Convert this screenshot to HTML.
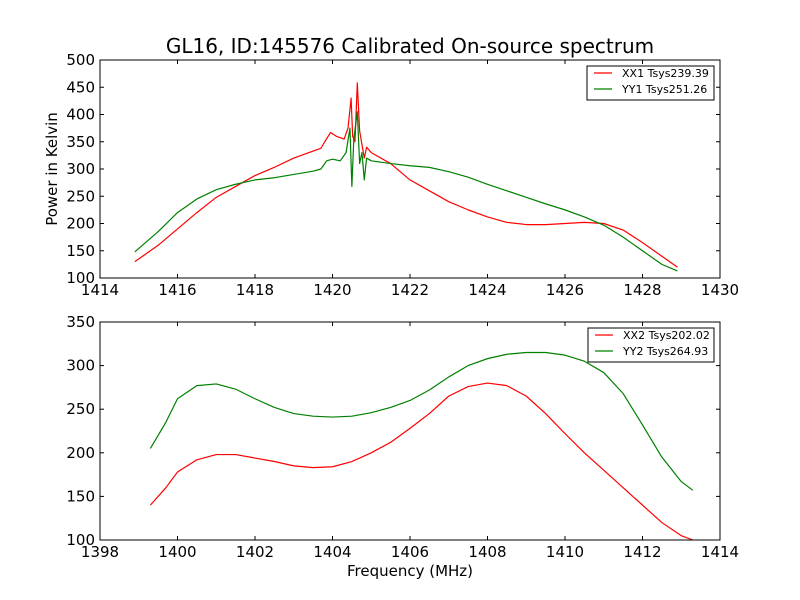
<!DOCTYPE html>
<html><head><meta charset="utf-8"><style>
body{margin:0;background:#fff}
svg{display:block;font-family:"DejaVu Sans","Liberation Sans",sans-serif}
</style></head><body>
<svg id="c" width="800" height="600"></svg>
<script>
const f1=[1414.9,1415.5,1416,1416.5,1417,1417.5,1418,1418.5,1419,1419.5,1419.7,1419.8,1419.95,1420.1,1420.3,1420.4,1420.48,1420.52,1420.58,1420.64,1420.7,1420.76,1420.82,1420.88,1421,1421.5,1422,1422.5,1423,1423.5,1424,1424.5,1425,1425.5,1426,1426.5,1427,1427.5,1428,1428.5,1428.9];
const xx1=[130,160,190,220,248,268,288,303,320,333,338,350,367,360,355,375,430,360,350,458,370,345,320,340,330,310,280,260,240,225,212,202,198,198,200,202,200,188,165,140,120];
const g1=[1414.9,1415.5,1416,1416.5,1417,1417.5,1418,1418.5,1419,1419.5,1419.7,1419.85,1420,1420.2,1420.35,1420.45,1420.5,1420.55,1420.64,1420.7,1420.76,1420.82,1420.88,1421,1421.5,1422,1422.5,1423,1423.5,1424,1424.5,1425,1425.5,1426,1426.5,1427,1427.5,1428,1428.5,1428.9];
const yy1=[148,185,220,245,262,272,280,284,290,296,300,315,318,315,330,375,268,355,405,310,330,280,320,315,310,306,303,295,285,272,260,248,236,225,212,197,175,150,125,113];
const f2=[1399.3,1399.7,1400,1400.5,1401,1401.5,1402,1402.5,1403,1403.5,1404,1404.5,1405,1405.5,1406,1406.5,1407,1407.5,1408,1408.5,1409,1409.5,1410,1410.5,1411,1411.5,1412,1412.5,1413,1413.3];
const xx2=[140,160,178,192,198,198,194,190,185,183,184,190,200,212,228,245,265,276,280,277,265,245,222,200,180,160,140,120,105,100];
const yy2=[205,235,262,277,279,273,262,252,245,242,241,242,246,252,260,272,287,300,308,313,315,315,312,305,292,268,232,195,167,157];
const xt1=[1414,1416,1418,1420,1422,1424,1426,1428,1430];
const yt1=[100,150,200,250,300,350,400,450,500];
const xt2=[1398,1400,1402,1404,1406,1408,1410,1412,1414];
const yt2=[100,150,200,250,300,350];
const NS='http://www.w3.org/2000/svg',svg=document.getElementById('c');
function el(t,a,p){const e=document.createElementNS(NS,t);for(const k in a)e.setAttribute(k,a[k]);(p||svg).appendChild(e);return e;}
function txt(x,y,s,sz,anc,p){const t=el('text',{x:x,y:y,'font-size':sz,'text-anchor':anc||'middle'},p);t.textContent=s;return t;}
function panel(name,top,x0,x1,y0,y1,xt,yt,series,leg){
 const L=100,R=720,T=top,B=top+218;
 const sx=v=>L+(v-x0)/(x1-x0)*(R-L), sy=v=>B-(v-y0)/(y1-y0)*(B-T);
 const g=el('g',{});
 
 series.forEach(s=>{
  const p=el('polyline',{points:s.x.map((v,i)=>sx(v)+','+sy(s.y[i])).join(' '),fill:'none',stroke:s.c,'stroke-width':1.2,'stroke-linejoin':'round'},g);
  
 });
 const fr=el('rect',{x:L,y:T,width:R-L,height:B-T,fill:'none',stroke:'#000'},g);
 
 xt.forEach(v=>{const x=sx(v);el('line',{x1:x,x2:x,y1:B,y2:B-4,stroke:'#000'},g);el('line',{x1:x,x2:x,y1:T,y2:T+4,stroke:'#000'},g);
  const t=txt(x,B+17,String(v),15,'middle',g);});
 yt.forEach(v=>{const y=sy(v);el('line',{x1:L,x2:L+4,y1:y,y2:y,stroke:'#000'},g);el('line',{x1:R,x2:R-4,y1:y,y2:y,stroke:'#000'},g);
  const t=txt(L-5,y+5,String(v),15,'end',g);});
 const lg=el('g',{},g);
 el('rect',{x:leg,y:T+6,width:R-6-leg,height:34,fill:'#fff',stroke:'#000'},lg);
 series.forEach((s,i)=>{const y=T+13+i*16;el('line',{x1:leg+7,x2:leg+25,y1:y,y2:y,stroke:s.c,'stroke-width':1.2},lg);
  const t=txt(leg+35,y+4,s.l,11,'start',lg);});
}
panel('top-plot',60,1414,1430,100,500,xt1,yt1,[{x:f1,y:xx1,c:'#f00',n:'xx1-line',l:'XX1 Tsys239.39'},{x:g1,y:yy1,c:'#008000',n:'yy1-line',l:'YY1 Tsys251.26'}],587);
panel('bottom-plot',322,1398,1414,100,350,xt2,yt2,[{x:f2,y:xx2,c:'#f00',n:'xx2-line',l:'XX2 Tsys202.02'},{x:f2,y:yy2,c:'#008000',n:'yy2-line',l:'YY2 Tsys264.93'}],588);
let t=txt(410,53,'GL16, ID:145576 Calibrated On-source spectrum',20);
t=txt(410,576,'Frequency (MHz)',15);
t=txt(0,0,'Power in Kelvin',15);t.setAttribute('transform','translate(57,169) rotate(-90)');
</script>
</body></html>
